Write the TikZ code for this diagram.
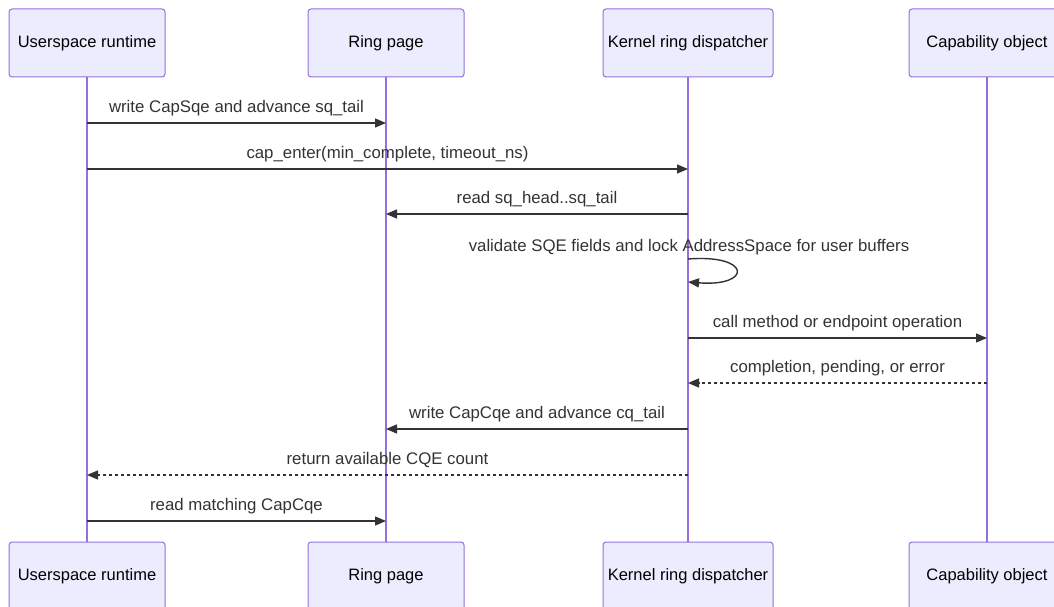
\documentclass[tikz,border=0pt]{standalone}
\usepackage{fontspec}
\setmainfont{Liberation Sans}
\usetikzlibrary{arrows.meta}

\definecolor{actfill}{HTML}{ECECFF}
\definecolor{actline}{HTML}{9370DB}
\definecolor{msgcol}{HTML}{333333}

\tikzset{
  actor/.style={draw=actline, fill=actfill, rounded corners=3pt, line width=1pt,
    minimum height=68pt, inner sep=0pt, font=\fontsize{16.5}{19}\selectfont},
  life/.style={draw=actline, line width=1.6pt},
  msg/.style={draw=msgcol, line width=1.4pt, -{Triangle[length=11pt,width=9pt]}},
  reply/.style={msg, dash pattern=on 3pt off 3pt},
  txt/.style={text=msgcol, font=\fontsize{16.8}{19}\selectfont},
  lbl/.style={txt, yshift=15pt}
}

\begin{document}
\begin{tikzpicture}[x=1pt,y=-1pt]
  \useasboundingbox (0,0) rectangle (1054,607);

  % actors, top row
  \node[actor, minimum width=156pt] (usrtop) at (87,43) {Userspace runtime};
  \node[actor, minimum width=156pt] (ringtop) at (386,43) {Ring page};
  \node[actor, minimum width=170pt] (kerntop) at (688,43) {Kernel ring dispatcher};
  \node[actor, minimum width=156pt] (captop) at (987,43) {Capability object};

  % actors, bottom row
  \node[actor, minimum width=156pt] (usrbot) at (87,576) {Userspace runtime};
  \node[actor, minimum width=156pt] (ringbot) at (386,576) {Ring page};
  \node[actor, minimum width=170pt] (kernbot) at (688,576) {Kernel ring dispatcher};
  \node[actor, minimum width=156pt] (capbot) at (987,576) {Capability object};

  % lifelines
  \draw[life] (usrtop.south) -- (usrbot.north);
  \draw[life] (ringtop.south) -- (ringbot.north);
  \draw[life] (kerntop.south) -- (kernbot.north);
  \draw[life] (captop.south) -- (capbot.north);

  % messages
  \draw[msg] (usrtop |- 0,123) -- (ringtop |- 0,123)
    node[lbl, midway] {write CapSqe and advance sq\_tail};
  \draw[msg] (usrtop |- 0,169) -- (kerntop |- 0,169)
    node[lbl, midway] {cap\_enter(min\_complete, timeout\_ns)};
  \draw[msg] (kerntop |- 0,214) -- (ringtop |- 0,214)
    node[lbl, midway] {read sq\_head..sq\_tail};

  % self call on the dispatcher
  \node[txt] (selflbl) at (689,247)
    {validate SQE fields and lock AddressSpace for user buffers};
  \draw[msg] (kerntop |- 0,259) .. controls (752,254) and (752,287) .. (kerntop |- 0,282);

  \draw[msg] (kerntop |- 0,338) -- (captop |- 0,338)
    node[lbl, midway] {call method or endpoint operation};
  \draw[reply] (captop |- 0,383) -- (kerntop |- 0,383)
    node[lbl, midway] {completion, pending, or error};
  \draw[msg] (kerntop |- 0,429) -- (ringtop |- 0,429)
    node[lbl, midway] {write CapCqe and advance cq\_tail};
  \draw[reply] (kerntop |- 0,475) -- (usrtop |- 0,475)
    node[lbl, midway] {return available CQE count};
  \draw[msg] (usrtop |- 0,521) -- (ringtop |- 0,521)
    node[lbl, midway] {read matching CapCqe};
\end{tikzpicture}
\end{document}
